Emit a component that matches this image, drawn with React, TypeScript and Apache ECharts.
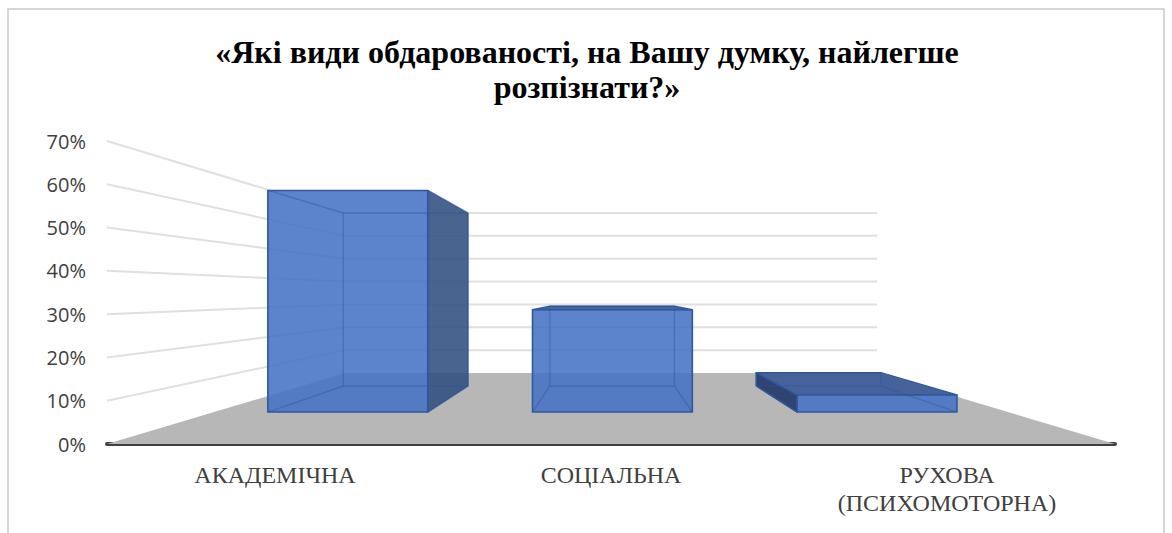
import React, { useEffect, useRef } from "react";
import * as echarts from "echarts";

const titleText = "«Які види обдарованості, на Вашу думку, найлегше\nрозпізнати?»";
const categories = ["АКАДЕМІЧНА", "СОЦІАЛЬНА", "РУХОВА\n(ПСИХОМОТОРНА)"];
const values = [65, 30, 5];
const ticks = [10, 20, 30, 40, 50, 60, 70];

const K = 0.472; // perspective shrink at the back wall
const DROP = 71; // floor depth on screen
const FRONT = 0.45;
const BACK = 0.817;
const BAR_RATIO = 0.604;
const BAR_SHIFT = 1.8;

function projector(cs: any) {
  const cx = cs.x + cs.width / 2;
  const base = cs.y + cs.height;
  return (px: number, py: number, d: number): number[] => {
    const s = 1 - K * d;
    return [cx + (px - cx) * s, base - DROP * d - (base - py) * s];
  };
}

function poly(points: number[][], fill: string, stroke: string, lw = 1.4) {
  return { type: "polygon", shape: { points }, style: { fill, stroke, lineWidth: lw, lineJoin: "round" } };
}
function line(points: number[][], stroke: string, lw = 1.4) {
  return { type: "polyline", shape: { points }, style: { fill: "none", stroke, lineWidth: lw } };
}

const renderFloor = (params: any, api: any) => {
  const cs = params.coordSys;
  const p = projector(cs);
  const b = cs.y + cs.height;
  const l = cs.x;
  const r = cs.x + cs.width;
  return {
    type: "group",
    children: [
      { type: "polygon", shape: { points: [p(l, b, 0), p(l, b, 1), p(r, b, 1), p(r, b, 0)] }, style: { fill: "#b7b7b7" } },
    ],
  };
};

const renderWall = (params: any, api: any) => {
  const cs = params.coordSys;
  const p = projector(cs);
  const y = api.coord([0, api.value(1)])[1];
  const l = cs.x;
  const r = cs.x + cs.width;
  return line([p(l, y, 0), p(l, y, 1), p(r, y, 1)], "#e0e0e0", 2);
};

const renderBar = (params: any, api: any) => {
  const cs = params.coordSys;
  const p = projector(cs);
  const c = api.coord([api.value(0), 0]);
  const top = api.coord([api.value(0), api.value(1)])[1];
  const w = api.size([1, 0])[0] * BAR_RATIO;
  const x0 = c[0] - w / 2 + BAR_SHIFT;
  const x1 = c[0] + w / 2 + BAR_SHIFT;
  const b = c[1];
  const fbl = p(x0, b, FRONT), fbr = p(x1, b, FRONT), ftl = p(x0, top, FRONT), ftr = p(x1, top, FRONT);
  const bbl = p(x0, b, BACK), bbr = p(x1, b, BACK), btl = p(x0, top, BACK), btr = p(x1, top, BACK);
  const edge = "#30589c";
  const inner = "rgba(47,85,151,0.4)";
  const children: any[] = [];
  const topVisible = btl[1] < ftl[1];
  const rightVisible = bbr[0] > fbr[0];
  const leftVisible = bbl[0] < fbl[0];
  if (rightVisible) children.push(poly([fbr, bbr, btr, ftr], "rgba(48,78,128,0.88)", "rgba(47,85,151,0.7)"));
  if (leftVisible) children.push(poly([fbl, bbl, btl, ftl], "#2f4470", edge));
  if (topVisible) children.push(poly([ftl, btl, btr, ftr], "rgba(62,94,152,0.95)", edge));
  children.push(poly([fbl, fbr, ftr, ftl], "rgba(68,114,196,0.87)", edge, 1.6));
  // edges seen through the translucent faces
  children.push(line([bbl, bbr], inner));
  children.push(line([fbl, bbl], inner));
  children.push(line([fbr, bbr], inner));
  children.push(line([bbl, btl], inner));
  children.push(line([bbr, btr], inner));
  children.push(line([btl, btr], inner));
  if (!topVisible) {
    children.push(line([ftl, btl], inner));
    children.push(line([ftr, btr], inner));
  }
  return { type: "group", children };
};

export default function App() {
  const ref = useRef<HTMLDivElement>(null);
  useEffect(() => {
    const chart = echarts.init(ref.current!, undefined, { renderer: "svg" });
    chart.setOption({
      animation: false,
      backgroundColor: "#ffffff",
      title: {
        text: titleText,
        left: 582,
        top: 29,
        textAlign: "center",
        textStyle: {
          fontFamily: "Liberation Serif",
          fontWeight: "bold",
          fontSize: 32,
          lineHeight: 35,
          color: "#000000",
        },
      },
      grid: { left: 107, right: 57, top: 141, height: 303, containLabel: false },
      xAxis: {
        type: "category",
        data: categories,
        axisTick: { show: false },
        axisLine: { show: true, lineStyle: { color: "#404040", width: 4, cap: "round" } },
        axisLabel: {
          interval: 0,
          margin: 17,
          fontFamily: "Liberation Serif",
          fontSize: 24,
          lineHeight: 28,
          color: "#404040",
        },
      },
      yAxis: {
        type: "value",
        min: 0,
        max: 70,
        interval: 10,
        axisLine: { show: false },
        axisTick: { show: false },
        splitLine: { show: false },
        axisLabel: {
          formatter: "{value}%",
          margin: 21,
          padding: [2, 0, 0, 0],
          fontFamily: "Open Sans",
          fontSize: 20,
          color: "#404040",
        },
      },
      graphic: [
        {
          type: "polyline",
          silent: true,
          z: -1,
          shape: { points: [[8, 533], [8, 9], [1164, 9], [1164, 533]] },
          style: { fill: "none", stroke: "#c9c9c9", lineWidth: 1.5 },
        },
      ],
      series: [
        { type: "custom", silent: true, clip: false, z: 1, data: [[0, 0]], renderItem: renderFloor },
        { type: "custom", silent: true, clip: false, z: 2, data: ticks.map((t) => [0, t]), renderItem: renderWall },
        { type: "custom", silent: true, clip: false, z: 3, data: values.map((v, i) => [i, v]), renderItem: renderBar },
      ],
    });
    return () => chart.dispose();
  }, []);
  return <div ref={ref} style={{ position: "fixed", left: 0, top: 0, width: 1172, height: 533 }} />;
}
